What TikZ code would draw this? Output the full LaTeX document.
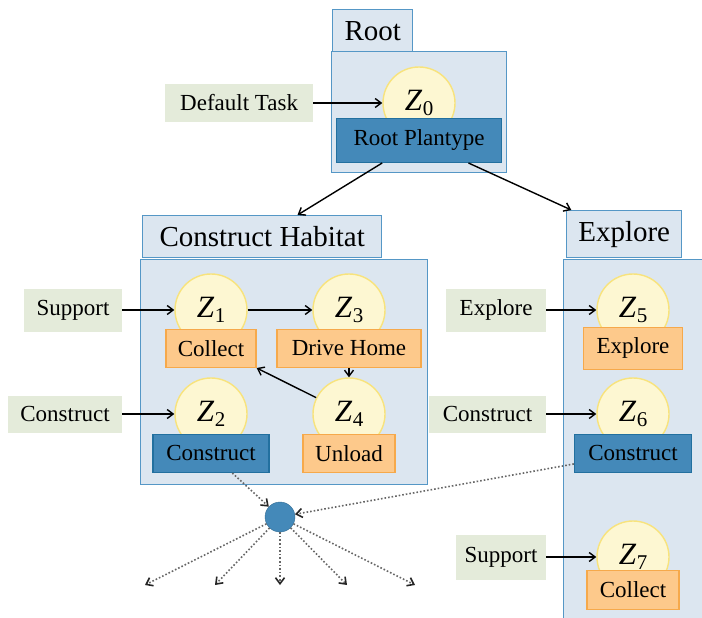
\documentclass[tikz,border=0pt]{standalone}
\usepackage{fontspec}
\setmainfont{Liberation Serif}
\usetikzlibrary{arrows.meta, positioning}

\definecolor{groupfill}{HTML}{DCE6F0}
\definecolor{groupline}{HTML}{5597C6}
\definecolor{statefill}{HTML}{FDF7D2}
\definecolor{stateline}{HTML}{F8E37C}
\definecolor{primfill}{HTML}{FDC98B}
\definecolor{primline}{HTML}{F6A94B}
\definecolor{compfill}{HTML}{4489B9}
\definecolor{compline}{HTML}{22709F}
\definecolor{taskfill}{HTML}{E4EBDA}

\newcommand{\zname}[1]{\textit{Z}\kern0.5pt\raisebox{-0.35ex}{\fontsize{21}{21}\selectfont #1}}

\tikzstyle{group} = [rectangle, draw=groupline, fill=groupfill, line width=1.4pt, anchor=north west]
\tikzstyle{grouptitle} = [group, minimum height=42pt, inner sep=0pt, font=\fontsize{29}{32}\selectfont]
\tikzstyle{state} = [circle, draw=stateline, fill=statefill, line width=1.4pt, minimum size=72pt, inner sep=0pt, font=\fontsize{31}{33}\selectfont]
\tikzstyle{primitive} = [rectangle, draw=primline, fill=primfill, line width=1.3pt, minimum height=38pt, inner sep=0pt, font=\fontsize{23}{26}\selectfont]
\tikzstyle{composite} = [primitive, draw=compline, fill=compfill]
\tikzstyle{task} = [rectangle, fill=taskfill, minimum height=41pt, inner sep=0pt, font=\fontsize{23}{26}\selectfont]
\tikzstyle{arrow} = [line width=1.4pt, ->, >={Straight Barb[length=6pt,width=9pt]}]
\tikzstyle{call} = [line width=1.6pt, dotted, black!60, -{Straight Barb[length=6pt,width=9pt,black!85]}]

\begin{document}
\begin{tikzpicture}[x=1pt, y=-1pt, node distance=50pt and 50pt]
\clip (0,0) rectangle (702,618);

% Groups
\node (rootgrp) [group, minimum width=175pt, minimum height=121pt] at (331,51) {};
\node (roottitle) [grouptitle, minimum width=80pt] at (332,9) {Root};
\node (habgrp) [group, minimum width=287pt, minimum height=225pt] at (140,259) {};
\node (habtitle) [grouptitle, minimum width=239pt] at (142,215) {Construct Habitat};
\node (expgrp) [group, minimum width=200pt, minimum height=420pt] at (563,259) {};
\node (exptitle) [grouptitle, minimum width=115pt, minimum height=47pt] at (566,210) {Explore};

% States
\node (z0) [state] at (419,103) {\zname{0}};
\node (z1) [state] at (211,310) {\zname{1}};
\node (z3) [state] at (349,310) {\zname{3}};
\node (z2) [state] at (211,414) {\zname{2}};
\node (z4) [state] at (349,414) {\zname{4}};
\node (z5) [state] at (633,310) {\zname{5}};
\node (z6) [state] at (633,414) {\zname{6}};
\node (z7) [state] at (633,557) {\zname{7}};

% Plantypes
\node (rootpt) [composite, minimum width=165pt, minimum height=44pt, below=-22pt of z0] {Root Plantype};
\node (collect1) [primitive, minimum width=90pt, below=-18pt of z1] {Collect};
\node (drive) [primitive, minimum width=144pt, below=-18pt of z3] {Drive Home};
\node (construct1) [composite, minimum width=116pt, below=-17pt of z2] {Construct};
\node (unload) [primitive, minimum width=92pt, below=-17pt of z4] {Unload};
\node (explore) [primitive, minimum width=99pt, minimum height=42pt, below=-20pt of z5] {Explore};
\node (construct2) [composite, minimum width=117pt, below=-17pt of z6] {Construct};
\node (collect2) [primitive, minimum width=92pt, minimum height=39pt, below=-24pt of z7] {Collect};

% Tasks
\node (deftask) [task, minimum width=148pt, minimum height=37pt, left=69pt of z0] {Default Task};
\node (support1) [task, minimum width=98pt, minimum height=43pt, left=52pt of z1] {Support};
\node (construct3) [task, minimum width=114pt, minimum height=37pt, left=52pt of z2] {Construct};
\node (explore2) [task, minimum width=100pt, minimum height=43pt, left=50pt of z5] {Explore};
\node (construct4) [task, minimum width=117pt, minimum height=37pt, left=50pt of z6] {Construct};
\node (support2) [task, minimum width=90pt, minimum height=45pt, left=50pt of z7] {Support};

% Method call
\node (dot) [circle, fill=compfill, draw=compfill!80!black, minimum size=30pt, inner sep=0pt] at (280,517) {};
\coordinate (out1) at (145,585);
\coordinate (out2) at (215,585);
\coordinate (out3) at (280,585);
\coordinate (out4) at (347,585);
\coordinate (out5) at (415,585);

% Arrows
\draw [arrow] (rootpt) -- (habtitle);
\draw [arrow] (rootpt) -- (exptitle);
\draw [arrow] (deftask) -- (z0);
\draw [arrow] (support1) -- (z1);
\draw [arrow] (construct3) -- (z2);
\draw [arrow] (z1) -- (z3);
\draw [arrow] (drive) -- (z4);
\draw [arrow] (z4) -- (collect1.south east);
\draw [arrow] (explore2) -- (z5);
\draw [arrow] (construct4) -- (z6);
\draw [arrow] (support2) -- (z7);

% Dotted calls
\draw [call] (construct1) -- (dot);
\draw [call] (construct2) -- (dot);
\foreach \i in {1,...,5}
  \draw [call] (dot) -- (out\i);

\end{tikzpicture}
\end{document}
